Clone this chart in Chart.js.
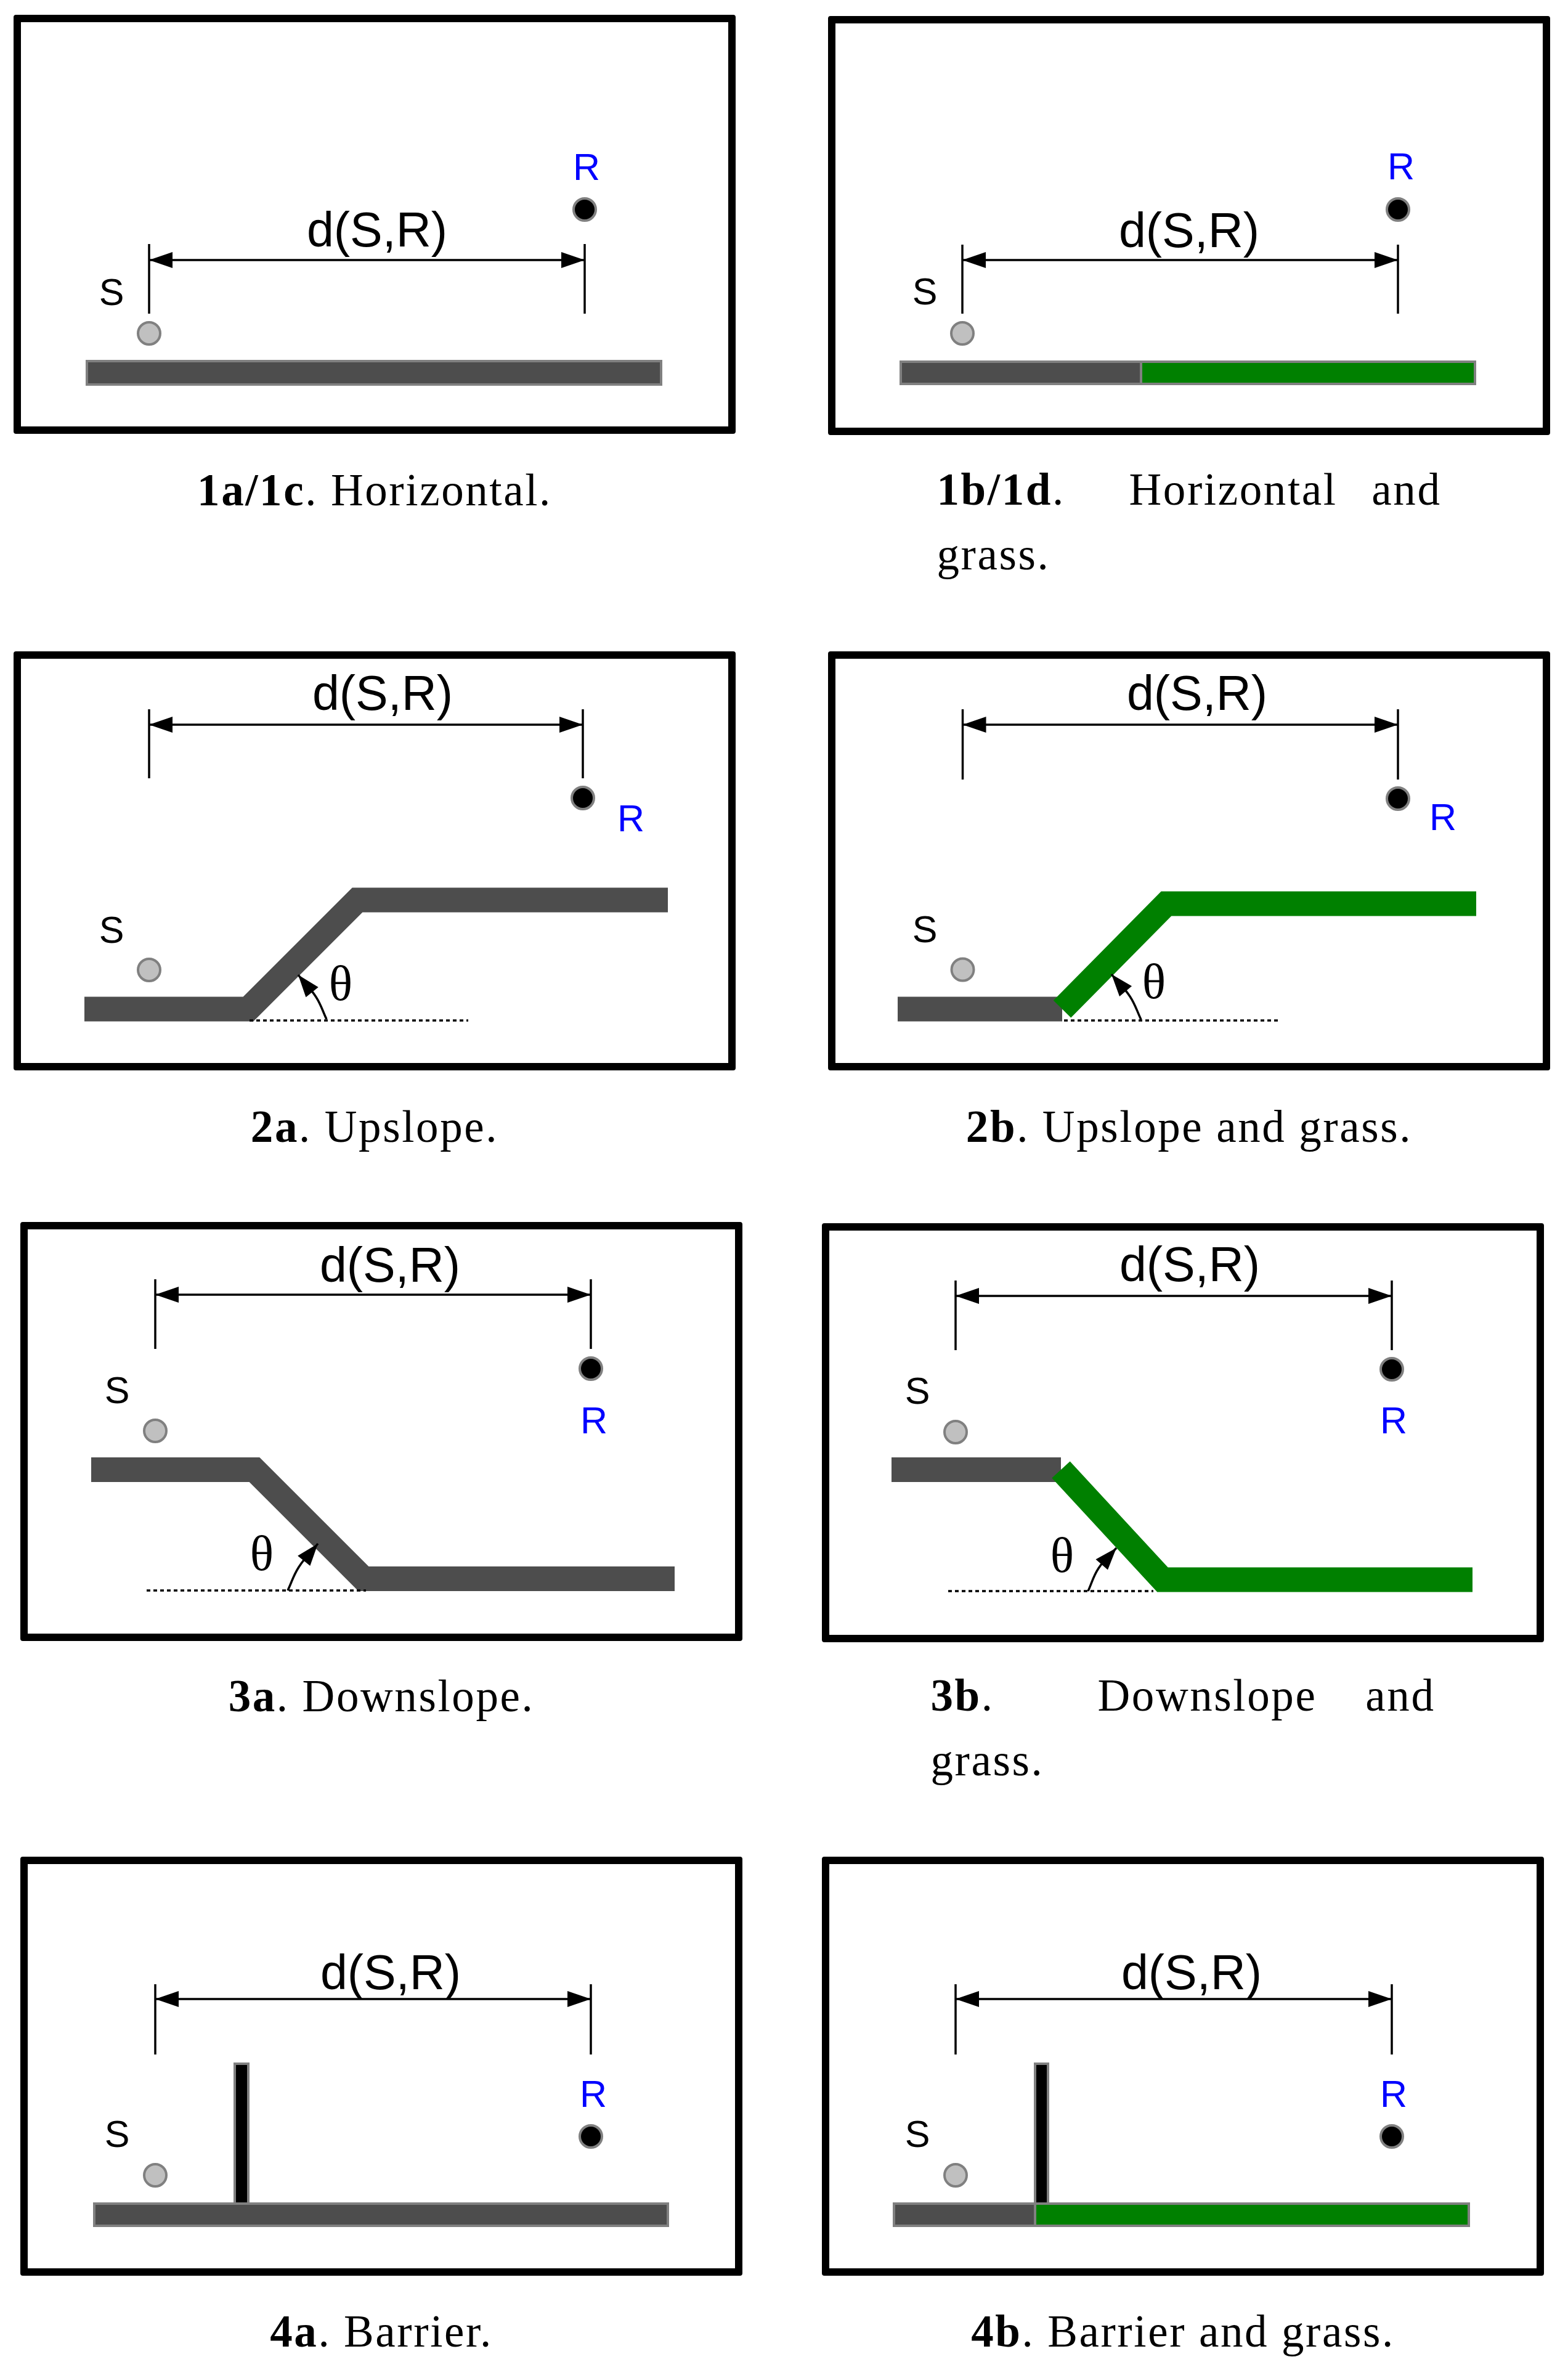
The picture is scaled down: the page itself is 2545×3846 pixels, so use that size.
<!DOCTYPE html>
<html>
<head>
<meta charset="utf-8">
<title>Propagation scenarios</title>
<script src="https://cdn.jsdelivr.net/npm/chart.js@4.4.1/dist/chart.umd.min.js"></script>
<style>
  html, body { margin: 0; padding: 0; background: #fff; }
  #page { position: relative; width: 2545px; height: 3846px; overflow: hidden; }
  .box { position: absolute; width: 1172px; height: 680px; box-sizing: border-box;
         border: 12px solid #000; border-radius: 4px; }
  .box canvas { display: block; }
  .lbl { position: absolute; transform: translate(-50%, -50%); line-height: 1; white-space: nowrap;
         font-family: "Liberation Sans", Arial, sans-serif; font-size: 61px; color: #000; }
  .lbl.serif { font-family: "Liberation Serif", "Times New Roman", serif; }
  .cap { position: absolute; font-family: "Liberation Serif", "Times New Roman", serif; font-size: 73px;
         letter-spacing: 2.6px; line-height: 105px; color: #000; white-space: nowrap; }
  .cap .row { display: flex; justify-content: space-between; }
</style>
</head>
<body>
<div id="page"></div>
<script>
// ---------------------------------------------------------------------------
// Scenario data. Units: 1 unit = 10 px, x to the right, y upward from the
// bottom edge of each panel box.
// ---------------------------------------------------------------------------
const PANELS = ["1a", "1b", "2a", "2b", "3a", "3b", "4a", "4b"];

const CAPTION_BOLD = ["1a/1c", "1b/1d", "2a", "2b", "3a", "3b", "4a", "4b"];
const CAPTION_TEXT = ["Horizontal.", "Horizontal and grass.", "Upslope.", "Upslope and grass.",
                      "Downslope.", "Downslope and grass.", "Barrier.", "Barrier and grass."];

// source S / receiver R positions
const SRC = [[22.0, 16.3], [21.8, 16.5], [22.0, 16.3], [21.85, 16.35],
             [21.9, 34.1], [21.7, 34.1], [21.9, 16.3], [21.7, 16.3]];
const RCV = [[92.7, 36.4], [92.5, 36.6], [92.4, 44.2], [92.5, 44.1],
             [92.6, 44.2], [92.5, 44.3], [92.6, 22.6], [92.5, 22.6]];
const SRC_LABEL = [[15.9, 23.0], [15.7, 23.3], [15.9, 22.8], [15.7, 22.9],
                   [15.7, 40.7], [15.5, 40.8], [15.7, 23.0], [15.5, 23.0]];
const RCV_LABEL = [[93.0, 43.3], [93.0, 43.6], [100.2, 40.9], [99.8, 41.1],
                   [93.1, 35.8], [92.8, 36.0], [93.0, 29.5], [92.8, 29.5]];

// d(S,R) dimension line: height, tick extent, label centre
const DIM_Y = [28.2, 28.4, 56.1, 56.1, 56.2, 56.2, 44.9, 44.9];
const DIM_TICK = [[19.5, 30.8], [19.7, 30.9], [47.4, 58.6], [47.2, 58.6],
                  [47.4, 58.7], [47.4, 58.7], [35.9, 47.3], [35.9, 47.3]];
const DIM_LABEL = [[59.0, 33.25], [58.6, 33.3], [59.9, 61.3], [59.9, 61.3],
                   [60.0, 61.15], [59.7, 61.45], [60.1, 49.3], [60.0, 49.3]];

// flat ground slab [left, right, bottom, top] and where grass starts
const SLAB = [[11.9, 105.1, 8.0, 11.8], [11.8, 105.0, 8.3, 11.9], null, null,
              null, null, [12.0, 105.1, 8.1, 11.7], [11.7, 105.0, 8.1, 11.7]];
const SLAB_GRASS_FROM = [null, 50.8, null, null, null, null, null, 34.6];

// barrier wall [left, right, bottom, top]
const BARRIER = [null, null, null, null, null, null, [34.8, 37.0, 11.7, 34.4], [34.6, 36.7, 11.7, 34.4]];

// sloped terrain profiles (centre line of the ground band) and grass start vertex
const PROFILE = [null, null,
  [[11.5, 9.95], [38.1, 9.95], [55.8, 27.65], [106.2, 27.65]],
  [[11.3, 9.95], [38.0, 9.95], [54.9, 27.05], [105.2, 27.05]],
  [[11.5, 27.8], [38.0, 27.8], [55.7, 10.1], [106.2, 10.1]],
  [[11.3, 28.0], [38.8, 28.0], [55.3, 10.15], [105.6, 10.15]],
  null, null];
const PROFILE_GRASS_FROM = [null, null, null, 1, null, 1, null, null];

// dotted horizontal reference [from, to, height], slope angle arrow and θ label
const DATUM = [null, null, [38.3, 73.8, 8.1], [38.3, 73.5, 8.1], [20.5, 56.1, 8.2], [20.5, 53.8, 8.3], null, null];
const THETA_ARC = [null, null,
  [[50.8, 8.3], [49.1, 11.9], [46.2, 15.5]],
  [[50.8, 8.25], [49.0, 12.0], [46.0, 15.6]],
  [[43.4, 8.2], [45.2, 12.0], [48.3, 15.8]],
  [[43.2, 8.3], [44.9, 12.0], [47.8, 15.3]],
  null, null];
const THETA_LABEL = [null, null, [53.1, 14.1], [52.9, 14.4], [39.2, 14.2], [39.0, 14.1], null, null];

// ---------------------------------------------------------------------------
// Page layout (px)
// ---------------------------------------------------------------------------
const BOX_POS = [[22, 24], [1344, 26], [22, 1057], [1344, 1057],
                 [33, 1983], [1334, 1985], [33, 3013], [1334, 3013]];
const BOX_W = 1172, BOX_H = 680, BORDER = 12;
const CAPTION_BASE = [820, 819, 1853, 1853, 2777, 2776, 3808, 3808];
const CAPTION_WRAP = [null, 48, null, null, null, 89, null, null]; // extra sentence space
const CAPTION_BLOCK_W = 819;

const X_MIN = BORDER / 10, X_MAX = (BOX_W - BORDER) / 10;
const Y_MIN = BORDER / 10, Y_MAX = (BOX_H - BORDER) / 10;

const GROUND = "#4d4d4d";
const GRASS = "#008000";
const EDGE = "#808080";

// ---------------------------------------------------------------------------
// helpers
// ---------------------------------------------------------------------------
const pts = (list) => list.map(([x, y]) => ({ x, y }));
const rect = (x0, x1, y0, y1) => pts([[x0, y1], [x1, y1], [x1, y0], [x0, y0], [x0, y1]]);

function stroke(data, color, width, order, extra) {
  return Object.assign({
    data, showLine: true, pointRadius: 0, pointHoverRadius: 0,
    borderColor: color, borderWidth: width, fill: false, order,
  }, extra || {});
}

function block(data, fillColor, order) {
  return stroke(data, EDGE, 4, order, {
    backgroundColor: fillColor, fill: "shape", borderCapStyle: "square", borderJoinStyle: "miter",
  });
}

function marker(xy, fillColor) {
  return {
    data: pts([xy]), showLine: false, pointRadius: 18, pointHoverRadius: 18,
    backgroundColor: fillColor, borderColor: EDGE, borderWidth: 4, order: 1,
  };
}

function datasetsFor(i) {
  const out = [];
  const thick = { borderJoinStyle: "miter", borderCapStyle: "butt" };

  if (SLAB[i]) {
    const [x0, x1, y0, y1] = SLAB[i];
    const g = SLAB_GRASS_FROM[i];
    if (g == null) {
      out.push(block(rect(x0, x1, y0, y1), GROUND, 20));
    } else {
      out.push(block(rect(x0, g, y0, y1), GROUND, 20));
      out.push(block(rect(g, x1, y0, y1), GRASS, 19));
    }
  }

  if (PROFILE[i]) {
    const prof = PROFILE[i];
    const k = PROFILE_GRASS_FROM[i];
    if (k == null) {
      out.push(stroke(pts(prof), GROUND, 40, 20, thick));
    } else {
      out.push(stroke(pts(prof.slice(0, k + 1)), GROUND, 40, 20, thick));
      out.push(stroke(pts(prof.slice(k)), GRASS, 40, 19, thick));
    }
  }

  if (BARRIER[i]) out.push(block(rect(...BARRIER[i]), "#000", 18));

  if (DATUM[i]) {
    const [a, b, h] = DATUM[i];
    out.push(stroke(pts([[a, h], [b, h]]), "#000", 3.5, 17, { borderDash: [6, 5], borderCapStyle: "butt" }));
  }

  if (THETA_ARC[i]) {
    out.push(stroke(pts(THETA_ARC[i]), "#000", 3.5, 16, { tension: 0.4, arrow: { end: true, len: 36, half: 13 } }));
  }

  const sx = SRC[i][0], rx = RCV[i][0];
  const [t0, t1] = DIM_TICK[i];
  out.push(stroke(pts([[sx, t0], [sx, t1]]), "#000", 3.5, 15));
  out.push(stroke(pts([[rx, t0], [rx, t1]]), "#000", 3.5, 15));
  out.push(stroke(pts([[sx, DIM_Y[i]], [rx, DIM_Y[i]]]), "#000", 3.5, 14,
    { arrow: { start: true, end: true, len: 38, half: 13 } }));

  out.push(marker(SRC[i], "#c0c0c0"));
  out.push(marker(RCV[i], "#000"));
  return out;
}

function labelsFor(i) {
  const list = [
    { text: "S", at: SRC_LABEL[i] },
    { text: "R", at: RCV_LABEL[i], color: "#0000ff" },
    { text: "d(S,R)", at: DIM_LABEL[i], size: 79 },
  ];
  if (THETA_LABEL[i]) list.push({ text: "θ", at: THETA_LABEL[i], size: 80, serif: true });
  return list;
}

// draws filled arrow heads at the ends of datasets flagged with `arrow`
function drawHead(ctx, tip, fx, fy, len, half, color) {
  const a = Math.atan2(tip.y - fy, tip.x - fx);
  const bx = tip.x - len * Math.cos(a), by = tip.y - len * Math.sin(a);
  const nx = -Math.sin(a) * half, ny = Math.cos(a) * half;
  ctx.beginPath();
  ctx.moveTo(tip.x, tip.y);
  ctx.lineTo(bx + nx, by + ny);
  ctx.lineTo(bx - nx, by - ny);
  ctx.closePath();
  ctx.fillStyle = color;
  ctx.fill();
}

const arrowHeads = {
  id: "arrowHeads",
  afterDatasetsDraw(chart) {
    const ctx = chart.ctx;
    chart.data.datasets.forEach((ds, i) => {
      if (!ds.arrow) return;
      const p = chart.getDatasetMeta(i).data;
      if (p.length < 2) return;
      const { len, half } = ds.arrow;
      ctx.save();
      if (ds.arrow.start) {
        const a = p[0];
        const useCp = a.cp2x != null && Math.hypot(a.cp2x - a.x, a.cp2y - a.y) > 1;
        drawHead(ctx, a, useCp ? a.cp2x : p[1].x, useCp ? a.cp2y : p[1].y, len, half, ds.borderColor);
      }
      if (ds.arrow.end) {
        const z = p[p.length - 1];
        const useCp = z.cp1x != null && Math.hypot(z.cp1x - z.x, z.cp1y - z.y) > 1;
        const q = p[p.length - 2];
        drawHead(ctx, z, useCp ? z.cp1x : q.x, useCp ? z.cp1y : q.y, len, half, ds.borderColor);
      }
      ctx.restore();
    });
  },
};

// keeps the html labels on their data positions
function placeLabels(items) {
  return {
    id: "placeLabels",
    afterRender(chart) {
      const { x, y } = chart.scales;
      for (const it of items) {
        it.el.style.left = x.getPixelForValue(it.at[0]) + "px";
        it.el.style.top = y.getPixelForValue(it.at[1]) + "px";
      }
    },
  };
}

// ---------------------------------------------------------------------------
// build page
// ---------------------------------------------------------------------------
const page = document.getElementById("page");

PANELS.forEach((id, i) => {
  const box = document.createElement("div");
  box.className = "box";
  box.id = "panel-" + id;
  box.style.left = BOX_POS[i][0] + "px";
  box.style.top = BOX_POS[i][1] + "px";

  const canvas = document.createElement("canvas");
  canvas.width = BOX_W - 2 * BORDER;
  canvas.height = BOX_H - 2 * BORDER;
  box.appendChild(canvas);

  const items = labelsFor(i).map((lab) => {
    const el = document.createElement("div");
    el.className = "lbl" + (lab.serif ? " serif" : "");
    el.textContent = lab.text;
    if (lab.size) el.style.fontSize = lab.size + "px";
    if (lab.color) el.style.color = lab.color;
    box.appendChild(el);
    return { el, at: lab.at };
  });

  page.appendChild(box);

  new Chart(canvas, {
    type: "scatter",
    data: { datasets: datasetsFor(i) },
    options: {
      responsive: false,
      animation: false,
      events: [],
      layout: { padding: 0, autoPadding: false },
      scales: {
        x: { type: "linear", min: X_MIN, max: X_MAX, display: false },
        y: { type: "linear", min: Y_MIN, max: Y_MAX, display: false },
      },
      plugins: { legend: { display: false }, tooltip: { enabled: false } },
    },
    plugins: [arrowHeads, placeLabels(items)],
  });

  // caption
  const cap = document.createElement("div");
  cap.className = "cap";
  const bx = BOX_POS[i][0];
  const lead = "<b>" + CAPTION_BOLD[i] + "</b>.";
  const gap = CAPTION_WRAP[i];
  if (gap == null) {
    cap.style.left = bx + "px";
    cap.style.width = BOX_W + "px";
    cap.style.textAlign = "center";
    cap.innerHTML = lead + " " + CAPTION_TEXT[i];
  } else {
    const words = CAPTION_TEXT[i].split(" ");
    const last = words.pop();
    cap.style.left = (bx + BOX_W / 2 - CAPTION_BLOCK_W / 2) + "px";
    cap.style.width = CAPTION_BLOCK_W + "px";
    cap.innerHTML = '<div class="row"><span style="margin-right:' + gap + 'px">' + lead + "</span>" +
      words.map((w) => "<span>" + w + "</span>").join("") + "</div><div>" + last + "</div>";
  }
  cap.style.top = (CAPTION_BASE[i] - 77) + "px";
  page.appendChild(cap);
});
</script>
</body>
</html>
